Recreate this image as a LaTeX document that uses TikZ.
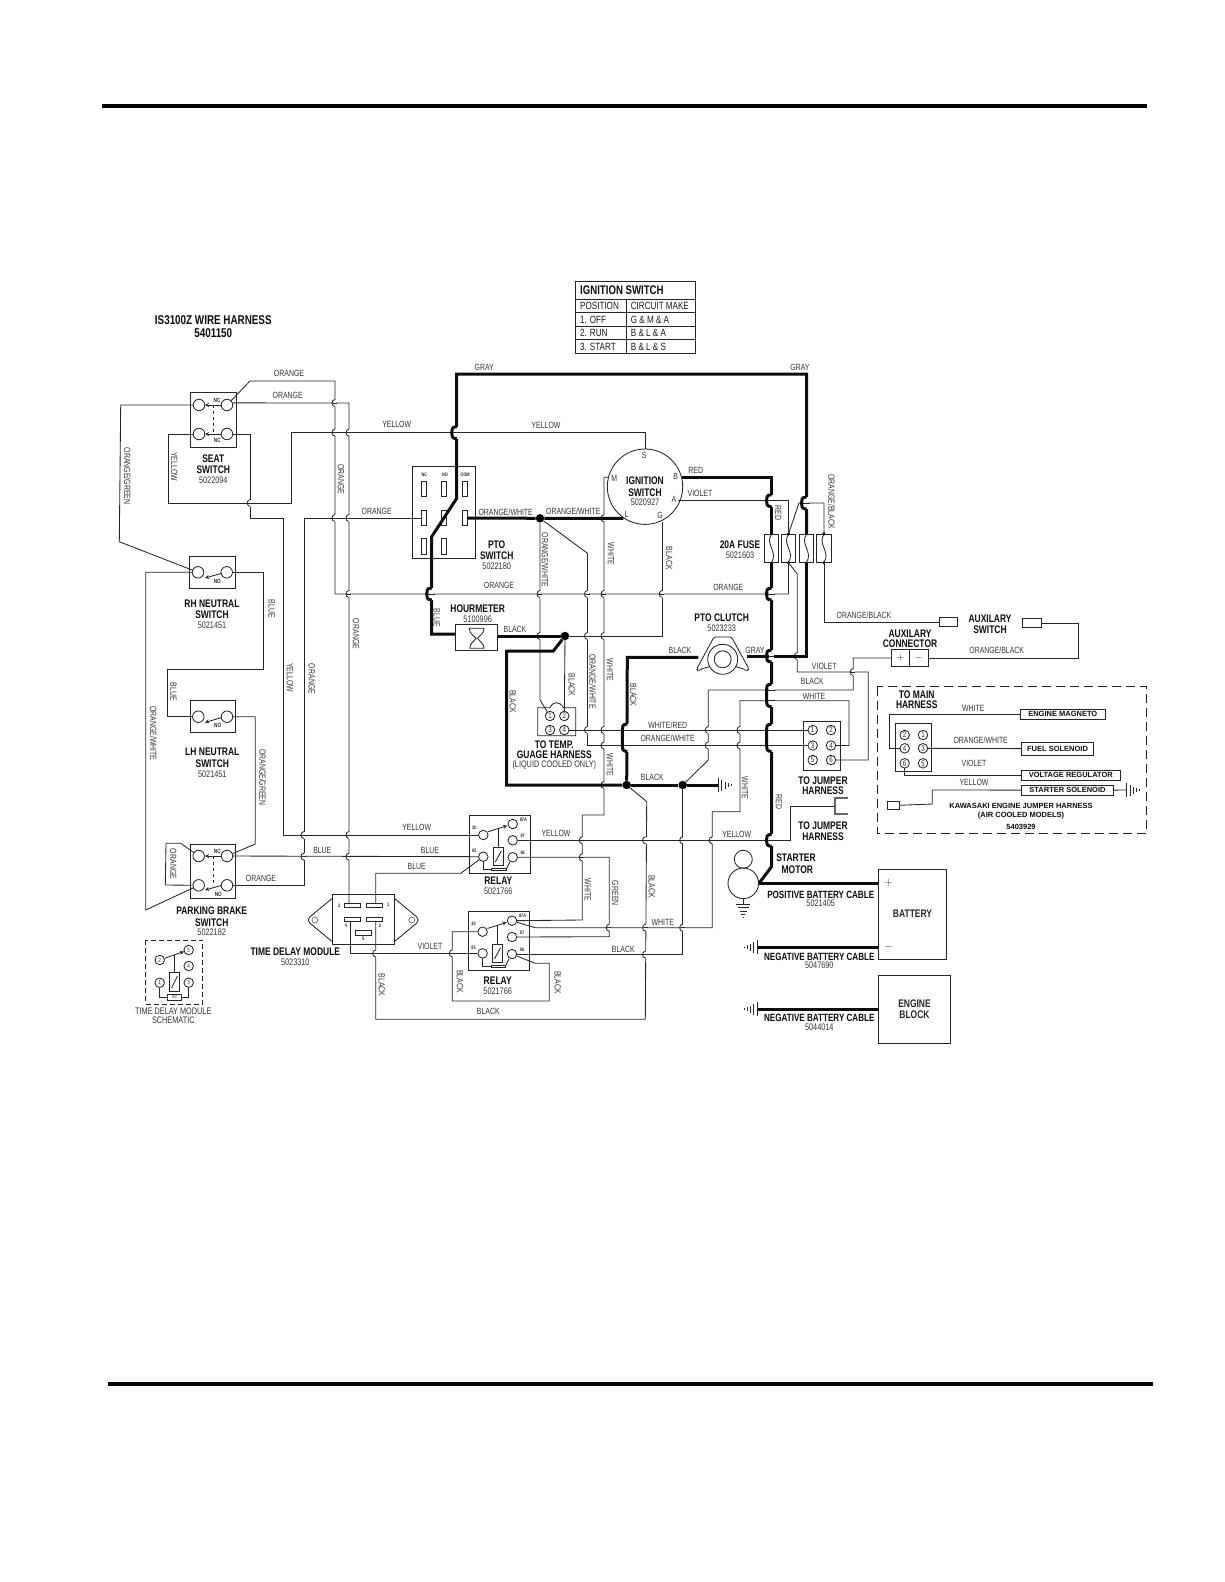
\documentclass[tikz,border=0pt]{standalone}
\usepackage{fontspec}
\setmainfont{Liberation Sans}
\newfontfamily\narrowfont[FakeStretch=0.77]{Liberation Sans}
\tikzset{
  wire/.style={line width=0.85pt,black!85},
  heavy/.style={line width=3pt,black!95},
  part/.style={line width=0.85pt,black!85},
  wlab/.style={font=\narrowfont\fontsize{9}{9}\selectfont,inner sep=0pt,text=black!80},
  wlabv/.style={wlab,rotate=-90},
  tablab/.style={font=\narrowfont\fontsize{10.5}{10.5}\selectfont,inner sep=0pt,text=black!90,anchor=west},
  numlab/.style={font=\narrowfont\fontsize{9.5}{9.5}\selectfont,inner sep=0pt,text=black!80},
  blab/.style={font=\narrowfont\bfseries\fontsize{11}{11}\selectfont,inner sep=0pt,text=black!95},
  pinlab/.style={font=\narrowfont\bfseries\fontsize{5}{5}\selectfont,inner sep=0pt,text=black!85},
  termc/.style={circle,draw,line width=0.85pt,black!85,minimum size=11.5pt,inner sep=0pt},
  relayc/.style={termc,minimum size=9.5pt},
  pinc/.style={termc,minimum size=9.5pt,font=\narrowfont\fontsize{8}{8}\selectfont},
  slot/.style={rectangle,draw,line width=0.85pt,black!85,inner sep=0pt},
  fusebox/.style={slot,minimum width=14.4pt,minimum height=28pt},
  labbox/.style={slot,font=\bfseries\fontsize{7.5}{7.5}\selectfont,text=black!95},
  wiredot/.style={circle,fill=black,inner sep=0pt},
}
\newcommand{\hopw}[2]{%
  \fill[white] (#1-1.2,#2-3.5) rectangle (#1+1.2,#2+3.5);
  \draw[wire] (#1-2,#2) -- (#1+2,#2);
  \draw[wire] (#1,#2-3.5) .. controls (#1-4,#2-3.5) and (#1-4,#2+3.5) .. (#1,#2+3.5);}
\newcommand{\hopt}[3]{%
  \fill[white] (#1-2.5,#2-6) rectangle (#1+2.5,#3+6);
  \draw[wire] (#1-3.5,#2) -- (#1+3.5,#2);
  \draw[wire] (#1-3.5,#3) -- (#1+3.5,#3);
  \draw[heavy] (#1,#2-6) .. controls (#1-5,#2-6) and (#1-5,#2-3) .. (#1-5,#2) -- (#1-5,#3) .. controls (#1-5,#3+3) and (#1-5,#3+6) .. (#1,#3+6);}
\newcommand{\gndsym}[3]{%
  \begin{scope}[shift={(#1,#2)},rotate=#3]
  \foreach \gx/\gh in {0/7,3.5/5.5,7/3.5,10/2,13/0.8} {\draw[wire] (\gx,-\gh) -- (\gx,\gh);}
  \end{scope}}
\newcommand{\relayblock}[3]{%
  \begin{scope}[shift={(#2,#3)}]
  \draw[part] (0,0) rectangle (61,58.3);
  \foreach \pn/\px/\py/\qx/\qy in {30/14/20/5/12.3,87A/43.4/9/54/4.3,87/43.4/25.3/53.4/21,85/14/41.7/5/36,86/43.4/42.3/53.4/37.7} {
    \node[relayc] (#1p\pn) at (\px,\py) {};
    \node[pinlab] (#1l\pn) at (\qx,\qy) {\pn};}
  \draw[part] (24,32.3) rectangle (34,50.7);
  \draw[part] (26,47) -- (32,36);
  \draw[part] (22.4,53.3) rectangle (36.7,55.7);
  \draw[part] (29,13.3) -- (29,32.3);
  \draw[part] (14,46.4) -- (14,54.5) -- (22.4,54.5);
  \draw[part] (40.5,47) -- (36.7,54.5);
  \draw[part,->,>=stealth] (19,16.7) -- (38,10.7);
  \end{scope}}
\begin{document}
\begin{tikzpicture}[x=1pt,y=-1pt]
\useasboundingbox (0,0) rectangle (1224,1582);
\draw[line width=4.5pt,black] (101.7,106) -- (1147,106);
\draw[line width=4.5pt,black] (108,1384) -- (1152.7,1384);

\draw[part] (575,281) rectangle (695,353.3);
\foreach \ty in {299.3,312.3,326,339.3} {\draw[part] (575,\ty) -- (695,\ty);}
\draw[part] (626.7,299.3) -- (626.7,353.3);
\node[blab,anchor=west,font=\narrowfont\bfseries\fontsize{12.5}{12.5}\selectfont] (tabhead) at (580,290) {IGNITION SWITCH};
\foreach \tx/\ty/\tt [count=\ti] in {580/305.7/POSITION,580/320/1. OFF,580/333.3/2. RUN,580/347.3/3. START,630.7/305.7/CIRCUIT MAKE,630.7/320/G \& M \& A,630.7/333.3/B \& L \& A,630.7/347.3/B \& L \& S} {
  \node[tablab] (tab\ti) at (\tx,\ty) {\tt};}

\foreach \tn/\tx/\ty in {seatTL/199/405,seatTR/227/405,seatBL/199/434,seatBR/227/434,rhL/198/572.3,rhR/226.7/572.3,lhL/198.3/716.7,lhR/227/716.7,pkTL/198.7/856,pkTR/227/856,pkBL/198.7/885.3,pkBR/227/885.3} {
  \node[termc] (\tn) at (\tx,\ty) {};}
\foreach \tn/\tx/\ty/\tt in {temp1/550/716/1,temp2/564.3/716/2,temp3/550/730/3,temp4/564.3/730/4,jb1/812.7/730/1,jb2/831/730/2,jb3/812.7/745.5/3,jb4/831/745.5/4,jb5/812.7/760/5,jb6/831/760/6,mh2/904.7/735/2,mh1/923/735/1,mh4/904.7/748.3/4,mh3/923/748.3/3,mh6/904.7/763.3/6,mh5/923/763.3/5} {
  \node[pinc] (\tn) at (\tx,\ty) {\tt};}
\foreach \tn/\tx/\ty/\tt in {sc2/159.7/960/2,sc5/188.7/950/5,sc4/188.7/966/4,sc1/159.7/982.7/1,sc3/188.7/982.7/3} {
  \node[pinc,font=\narrowfont\fontsize{6}{6}\selectfont] (\tn) at (\tx,\ty) {\tt};}

\draw[part] (190.3,392.7) rectangle (236.3,447.7);
\draw[part] (189.3,556.3) rectangle (235.3,588.3);
\draw[part] (190,700.7) rectangle (235.7,732.3);
\draw[part] (190.3,844) rectangle (235.7,898.7);
\draw[part,dashed] (213.3,405) -- (213.3,434);
\draw[part,dashed] (213,856) -- (213,886);
\foreach \cx/\cy/\dx/\dy in {221/405/205/405,221/434/205/434,221.7/573.3/205/578,221.7/717.5/205/722.5,221/856/205/856,221/885.5/205/890} {
  \draw[part,->,>=stealth] (\cx,\cy) -- (\dx,\dy);}
\foreach \px/\py/\pt [count=\pi] in {217/400.7/NC,217.3/440.7/NC,217.3/581/NO,217.7/725.7/NO,217.3/851.7/NC,218.3/894/NO} {
  \node[pinlab,font=\narrowfont\bfseries\fontsize{6}{6}\selectfont] (swl\pi) at (\px,\py) {\pt};}

\draw[part] (412.7,466.7) rectangle (475.7,558.3);
\foreach \sn/\sx/\sy/\sh in {a1/423.8/489/15,b1/443.8/489/15,c1/465/489/15,a2/423.8/518/15.6,b2/443.8/518/15.6,c2/465/518/15.6,a3/423.8/546/16,b3/443.8/546/16} {
  \node[slot,minimum width=4.4pt,minimum height=\sh pt] (pto\sn) at (\sx,\sy) {};}
\foreach \px/\pt [count=\pi] in {424.3/NC,445/NO,465/COM} {\node[pinlab] (ptl\pi) at (\px,475) {\pt};}

\node[circle,draw,line width=0.85pt,black!85,minimum size=75.4pt,inner sep=0pt] (ign) at (645,486.7) {};
\foreach \px/\py/\pt [count=\pi] in {644.3/455/S,614.3/478.3/M,675.7/476.7/B,674/499/A,626.7/514/L,660/515/G} {\node[wlab] (igl\pi) at (\px,\py) {\pt};}
\coordinate (ignM) at (608.3,477.3);
\coordinate (ignL) at (623.3,518.3);
\coordinate (ignG) at (662.3,521.7);
\coordinate (ignA) at (678.3,500.7);
\coordinate (ignB) at (681.7,477);

\foreach \fn/\fx in {1/771.5,2/788.5,3/806.5,4/824} {
  \node[fusebox] (fuse\fn) at (\fx,548.3) {};
  \draw[part] (\fx,534.3) .. controls (\fx-7,544) and (\fx+7,552) .. (\fx,562.3);}
\foreach \fn in {2,4} {
  \fill (fuse\fn.north) circle (1.7);
  \fill (fuse\fn.south) circle (1.7);}

\node[slot,minimum width=42.4pt,minimum height=26.4pt] (hour) at (476.5,637.5) {};
\draw[part] (469.3,628.3) -- (484,628.3) .. controls (484,634) and (479,636) .. (477.5,638.3) .. controls (479,641) and (484,643) .. (484,648.3) -- (469.8,648.3) .. controls (469.8,643) and (474.5,641) .. (476,638.3) .. controls (474.5,636) and (469.3,634) .. (469.3,628.3) -- cycle;
\coordinate (hourL) at (455.3,634);

\draw[part] (537.7,707.7) -- (550,707.7) .. controls (553,701) and (560,701) .. (563.3,707.7) -- (575.7,707.7) -- (575.7,735.7) -- (537.7,735.7) -- cycle;
\draw[part] (803.7,721.7) rectangle (840.7,770);
\draw[part] (895.7,723.3) rectangle (931.7,771.7);

\draw[part] (332.3,894.3) rectangle (394.3,944);
\draw[part,rounded corners=5pt] (332.3,898.3) -- (306,920) -- (332.3,941.7);
\draw[part,rounded corners=5pt] (394.3,898.3) -- (420.5,920) -- (394.3,941.7);
\node[circle,draw,black!85,minimum size=6pt,inner sep=0pt] (modholeL) at (315,920) {};
\node[circle,draw,black!85,minimum size=6pt,inner sep=0pt] (modholeR) at (411.7,920) {};
\foreach \sn/\sx/\sy in {1/374.5/905.5,2/352.2/905.5,3/374.5/919.5,4/352.2/919.5,5/363.7/932.8} {
  \node[slot,minimum width=15.7pt,minimum height=4.4pt] (mod\sn) at (\sx,\sy) {};}
\foreach \px/\py/\pt [count=\pi] in {339.3/905.7/2,388.3/905/1,346/926/4,380/926/3,363.3/938.3/5} {\node[pinlab] (mdl\pi) at (\px,\py) {\pt};}
\coordinate (m2pin) at (349,903.3);
\coordinate (m1pin) at (375.7,903.3);
\coordinate (m4pin) at (350.7,921.7);
\coordinate (m3pin) at (375.7,921.7);

\relayblock{ra}{469.3}{815}
\relayblock{rb}{468.6}{911.7}

\node[wiredot,minimum size=8.5pt] (dotA) at (626.7,785) {};
\node[wiredot,minimum size=8.5pt] (dotB) at (682.7,785) {};
\node[wiredot,minimum size=8.5pt] (dotC) at (565,636) {};
\node[wiredot,minimum size=8.5pt] (dotD) at (540,518.3) {};

\draw[part,rounded corners=1.5pt] (714,637) -- (731.5,637) -- (749,669) -- (747,671) .. controls (735,664) and (710,664) .. (698,671) -- (696.7,669) -- cycle;
\node[circle,draw,line width=0.85pt,black!85,minimum size=30pt,inner sep=0pt,fill=white] (clutch) at (722.7,659.3) {};
\node[circle,draw,line width=0.85pt,black!85,minimum size=17pt,inner sep=0pt] (clutchIn) at (722.7,659.3) {};
\coordinate (clL) at (698.3,657.3);
\coordinate (clR) at (746.7,656);

\node[slot,minimum width=17.6pt,minimum height=17.4pt] (auxP) at (900.5,658) {$+$};
\node[slot,minimum width=19pt,minimum height=17.4pt] (auxM) at (918.8,658) {$-$};
\node[slot,minimum width=18.7pt,minimum height=9.4pt] (swL) at (948.3,622) {};
\node[slot,minimum width=18.7pt,minimum height=9.4pt] (swR) at (1031.7,623) {};
\draw[line width=1.8pt,black!60] (848.3,798) -- (835,798) -- (835,814.3) -- (848.3,814.3);
\coordinate (jumpC) at (835,806.7);

\node[labbox,minimum width=84.3pt,minimum height=10pt] (magneto) at (1062.8,714.3) {ENGINE MAGNETO};
\node[labbox,minimum width=71.6pt,minimum height=12.7pt] (fuelsol) at (1057.5,748.6) {FUEL SOLENOID};
\node[labbox,minimum width=98.3pt,minimum height=10pt] (voltreg) at (1070.8,775) {VOLTAGE REGULATOR};
\node[labbox,minimum width=91.6pt,minimum height=9.7pt] (startsol) at (1067.5,790.1) {STARTER SOLENOID};
\node[slot,minimum width=11.3pt,minimum height=7.3pt] (kawaplug) at (893.3,805.3) {};
\draw[part,dash pattern=on 9pt off 5pt] (877.3,686.7) rectangle (1146.7,833.3);

\node[circle,draw,line width=0.85pt,black!85,minimum size=18pt,inner sep=0pt] (motorTop) at (743.3,859.3) {};
\node[circle,draw,line width=0.85pt,black!85,minimum size=30.6pt,inner sep=0pt] (motor) at (743.3,883.3) {};
\node[slot,minimum width=68.4pt,minimum height=89.7pt,font=\narrowfont\bfseries\fontsize{11}{11}\selectfont] (battery) at (912.5,914.2) {BATTERY};
\node[slot,minimum width=72.4pt,minimum height=67.6pt,align=center,font=\narrowfont\bfseries\fontsize{11}{11}\selectfont] (engine) at (914.5,1009.5) {ENGINE\\BLOCK};
\node[wlab,font=\fontsize{11}{11}\selectfont] (batplus) at (888.3,882.3) {$+$};
\node[wlab,font=\fontsize{11}{11}\selectfont] (batminus) at (888.3,946.7) {$-$};
\coordinate (gndA) at (718.3,785);
\coordinate (gndB) at (757.3,947.3);
\coordinate (gndC) at (757.3,1009);
\coordinate (gndD) at (1126.7,790);
\coordinate (gndE) at (743.3,904);

\draw[wire] (seatTR) -- (250,381) -- (335,381) -- (335,594) -| (fuse2.south);
\draw[wire] (seatTR.20) -- (349,403) -- (m2pin);
\draw[wire] (seatBR) -- (250.3,434) -- (250.3,518) -- (283,518) -- (283,835) -- (rap30);
\draw[wire] (seatBL) -- (168.3,434) -- (168.3,503) -- (291.7,503) -- (291.7,432.7) -| (ign.north);
\draw[wire] (seatTL) -- (120.7,405) -- (119.3,541.7) -- (rhL);
\draw[wire] (rhL) -- (145.7,572.3) -- (145.7,910) -- (pkBL);
\draw[wire] (rhR) -- (263.3,572.3) -- (263.3,669) -- (167.3,669) -- (167.3,716.7) -- (lhL);
\draw[wire] (lhR) -- (255.3,716.7) -- (255.3,844) -- (pkTR);
\draw[wire] (pkBL) -- (165.3,885) -- (166,843.3) -- (180.7,843.3) -- (pkTL);
\draw[wire] (pkTR) -- (rap85);
\draw[wire] (pkBR) -- (304,885.3) -- (304,518) -- (ptoa2.west);
\draw[wire] (m1pin) -- (375.7,873.3) -- (460.7,873.3) -- (rap85);
\draw[wire] (m4pin) |- (rbp85);
\draw[wire] (m3pin) -- (375.7,1019.3) -- (645.3,1019.3) -- (646.7,801.7) -- (dotA);
\draw[wire] (rap87) -- (790.7,840.3) -- (790.7,806.7) -- (jumpC);
\draw[wire] (rap86) -- (609.3,857.3) -- (609.3,936.7) -- (rbp87);
\draw[wire] (ignM) -- (604,477.3) -- (604,815) -- (582.3,815) -- (582.3,920) -- (rbp87A);
\draw[wire] (rbp87A) -- (535,927.7) -- (712.3,927.7) -- (712.3,811.7) -- (740,811.7) -- (740,700.7) -- (849,700.7) -- (849,745.5) -- (jb4);
\draw[wire] (rbp30) -- (452.3,931.7) -- (452.3,1001) -- (549.3,1001) -- (549.3,963.3) -- (535,963.3) -- (rbp86);
\draw[wire] (rbp86) -| (dotB);
\draw[wire] (dotC) -- (662.3,636) -- (ignG);
\draw[wire] (dotC) -- (temp2);
\draw[wire] (dotD) -- (540,700) -- (temp1);
\draw[wire] (dotD) -- (587.5,553.3) -- (587.5,745.5) -- (jb3);
\draw[wire] (temp4) -- (jb1);
\draw[wire] (dotB) -- (708.3,760) -- (708.3,690) -- (853.3,690) -- (853.3,658) -- (auxP.west);
\draw[wire] (auxM.east) -- (1078.3,658) -- (1078.3,623) -- (swR.east);
\draw[wire] (ignA) -| (fuse2.north);
\draw[wire] (fuse2.north) -- (799,503) -- (824,503) -- (fuse4.north);
\draw[wire] (fuse4.south) |- (swL.west);
\draw[wire] (jb6) -- (868.3,760) -- (868.3,672) -- (797.3,672) -- (797.3,574) -- (fuse2.south);
\draw[wire] (mh4) -- (889.3,748.3) -- (889.3,714.3) -- (magneto.west);
\draw[wire] (mh3) -- (fuelsol.west);
\draw[wire] (mh6) -- (904.7,775) -- (voltreg.west);
\draw[wire] (kawaplug.east) -- (932.3,804) -- (932.3,790) -- (startsol.west);
\draw[wire] (startsol.east) -- (gndD);

\foreach \hx/\hy in {335/403,335/432.7,335/518,349/432.7,349/518,349/594,349/835,349/856.7,304/835,304/856.7,250.3/503,540/594,540/636,587.5/594,587.5/636,587.5/730,604/518.3,604/594,604/636,604/730,604/745.5,604/785,582.3/840.3,582.3/857.3,609.3/927.7,645.6/840.3,645.6/927.7,645.6/954.6,682.7/840.3,682.7/927.7,712.3/840.3,708.3/730,708.3/745.5,740/730,740/745.5,853.3/672,375.7/953.4,452.3/953.4,797.3/656,662.3/594} {
  \hopw{\hx}{\hy}}

\draw[heavy] (ptoc2.east) -- (dotD) -- (ignL);
\draw[heavy] (dotA) -- (506.7,785) -- (506.7,651) -- (553.3,651) -- (dotC);
\draw[heavy] (hour.east |- dotC) -- (dotC);
\draw[heavy] (clL) -- (627.3,657.3) -- (dotA);
\draw[heavy] (dotA) -- (dotB) -- (gndA);
\draw[heavy] (hourL) -- (431.7,634) -- (431.7,536.7) -- (456.7,498.3) -- (456.7,374) -- (806.5,374) -- (fuse3.north);
\draw[heavy] (fuse3.south) -- (806.5,656) -- (clR);
\draw[heavy] (ignB) -| (fuse1.north);
\draw[heavy] (fuse1.south) -- (771.5,866.7) -- (motor.east);
\draw[heavy] (motor.east) -- (battery.west |- motor.east);
\draw[heavy] (gndB) -- (battery.west |- gndB);
\draw[heavy] (gndC) -- (engine.west |- gndC);

\foreach \hx/\hya/\hyb in {771.5/500.7/500.7,771.5/594/594,771.5/656/656,771.5/690/700.7,771.5/730/745.5,771.5/840.3/840.3,806.5/503/503,627.3/730/745.5,431.7/594/594,456.7/432.7/432.7} {
  \hopt{\hx}{\hya}{\hyb}}

\gndsym{718.3}{785}{0}
\gndsym{757.3}{947.3}{180}
\gndsym{757.3}{1009}{180}
\gndsym{1126.7}{790}{0}
\gndsym{743.3}{904}{-90}
\draw[wire] (motor.south) -- (gndE);

\draw[part,dash pattern=on 5pt off 3pt] (145.3,940.3) rectangle (202.7,1004);
\draw[part] (169.3,972.7) rectangle (179.3,991);
\draw[part] (171.5,988) -- (177.5,976);
\node[slot,minimum width=14pt,minimum height=6pt,font=\narrowfont\fontsize{4}{4}\selectfont] (rcbox) at (174.7,997) {R/C};
\draw[part] (sc1) -- (159.7,997) -- (rcbox.west);
\draw[part] (sc3) -- (188.7,997) -- (rcbox.east);
\draw[part] (174,955) -- (174,972.7);
\draw[part,->,>=stealth] (sc2) -- (184,951.5);

\foreach \lx/\ly/\lt [count=\li] in {213.3/320/IS3100Z WIRE HARNESS,213.3/333.5/5401150} {
  \node[blab,font=\narrowfont\bfseries\fontsize{12.8}{12.8}\selectfont] (title\li) at (\lx,\ly) {\lt};}

\foreach \lx/\ly/\lt [count=\li] in {213.3/458.7/SEAT,213.3/470/SWITCH,212/603.3/RH NEUTRAL,212/614.7/SWITCH,212.3/751.7/LH NEUTRAL,212.3/763.3/SWITCH,211.7/910.7/PARKING BRAKE,211.7/922.3/SWITCH,295.3/951.7/TIME DELAY MODULE,496.7/544.3/PTO,496.7/555.7/SWITCH,645/480.7/IGNITION,645/492.7/SWITCH,477.7/608.3/HOURMETER,554.3/744.3/TO TEMP.,554.3/754.5/GUAGE HARNESS,498.3/880.7/RELAY,497.7/980.7/RELAY,740/545/20A FUSE,721.7/617.7/PTO CLUTCH,910/634/AUXILARY,910/644/CONNECTOR,990/618.3/AUXILARY,990/630/SWITCH,823/780.7/TO JUMPER,823/791/HARNESS,823/825.5/TO JUMPER,823/837/HARNESS,916.7/695/TO MAIN,916.7/705/HARNESS,796/857.7/STARTER,797.3/869.3/MOTOR} {
  \node[blab] (name\li) at (\lx,\ly) {\lt};}
\foreach \lx/\ly/\lt [count=\li] in {820.7/895/POSITIVE BATTERY CABLE,819.3/956.7/NEGATIVE BATTERY CABLE,819.3/1018.3/NEGATIVE BATTERY CABLE} {
  \node[blab,font=\narrowfont\bfseries\fontsize{10.5}{10.5}\selectfont] (cable\li) at (\lx,\ly) {\lt};}

\foreach \lx/\ly/\lt [count=\li] in {1021/805.7/KAWASAKI ENGINE JUMPER HARNESS,1021/816/(AIR COOLED MODELS),1021/826.7/5403929} {
  \node[blab,font=\bfseries\fontsize{7.5}{7.5}\selectfont] (kawa\li) at (\lx,\ly) {\lt};}

\foreach \lx/\ly/\lt [count=\li] in {213.3/480.7/5022094,212/625.7/5021451,212.3/774/5021451,211.7/932.7/5022182,295.3/962.3/5023310,496.7/566.7/5022180,645/502.7/5020927,477.7/619.3/5100996,498.3/891.7/5021766,497.7/991.7/5021766,740/555.7/5021603,721.7/628.3/5023233,820.7/903.3/5021405,819.3/965.7/5047690,819.3/1027.3/5044014,554.3/765/(LIQUID COOLED ONLY),173.3/1011.7/TIME DELAY MODULE,173.3/1020/SCHEMATIC} {
  \node[numlab] (part\li) at (\lx,\ly) {\lt};}

\foreach \lx/\ly/\lt [count=\li] in {289/373.3/ORANGE,287.7/395/ORANGE,376.7/511.7/ORANGE,499/585.7/ORANGE,728.3/587.7/ORANGE,261/878.3/ORANGE,396.7/424/YELLOW,546/425.3/YELLOW,416.7/827.7/YELLOW,556/833.3/YELLOW,736.7/834.3/YELLOW,974/782.7/YELLOW,484.3/367.3/GRAY,800/367.7/GRAY,755/650.7/GRAY,505.7/512.3/{ORANGE/WHITE},573.3/511.7/{ORANGE/WHITE},667.7/738.3/{ORANGE/WHITE},980.7/740.7/{ORANGE/WHITE},667.7/725/{WHITE/RED},695.7/470.7/RED,700/493.3/VIOLET,824.3/666/VIOLET,430/946.7/VIOLET,974/763.3/VIOLET,515/629/BLACK,680/650.7/BLACK,652.3/777.3/BLACK,812.3/681.3/BLACK,623.3/949.3/BLACK,488.3/1011.7/BLACK,322.3/850/BLUE,430/850/BLUE,416.7/866.7/BLUE,662.7/922.7/WHITE,814/696/WHITE,973.3/708.3/WHITE,864/615/{ORANGE/BLACK},996.7/650.7/{ORANGE/BLACK}} {
  \node[wlab] (wireh\li) at (\lx,\ly) {\lt};}

\foreach \lx/\ly/\lt [count=\li] in {174.3/466.7/YELLOW,127.3/476/{ORANGE/GREEN},341/479.3/ORANGE,356/634/ORANGE,271.7/609/BLUE,173.3/691.7/BLUE,290/677.7/YELLOW,311.7/679/ORANGE,153.3/733.3/{ORANGE/WHITE},262.7/777.3/{ORANGE/GREEN},173.3/864/ORANGE,381.7/985/BLACK,436.7/617.7/BLUE,545/560/{ORANGE/WHITE},592.7/681.7/{ORANGE/WHITE},611/554/WHITE,610/670/WHITE,610/765/WHITE,587.7/890/WHITE,745/788/WHITE,669.3/558.3/BLACK,512.7/701.7/BLACK,571.7/685/BLACK,633.3/695/BLACK,651.7/886.7/BLACK,460/981.7/BLACK,557.7/982.7/BLACK,615.3/893.3/GREEN,778.3/513.3/RED,779/801.7/RED,831.7/501.7/{ORANGE/BLACK}} {
  \node[wlabv] (wirev\li) at (\lx,\ly) {\lt};}
\end{tikzpicture}
\end{document}
